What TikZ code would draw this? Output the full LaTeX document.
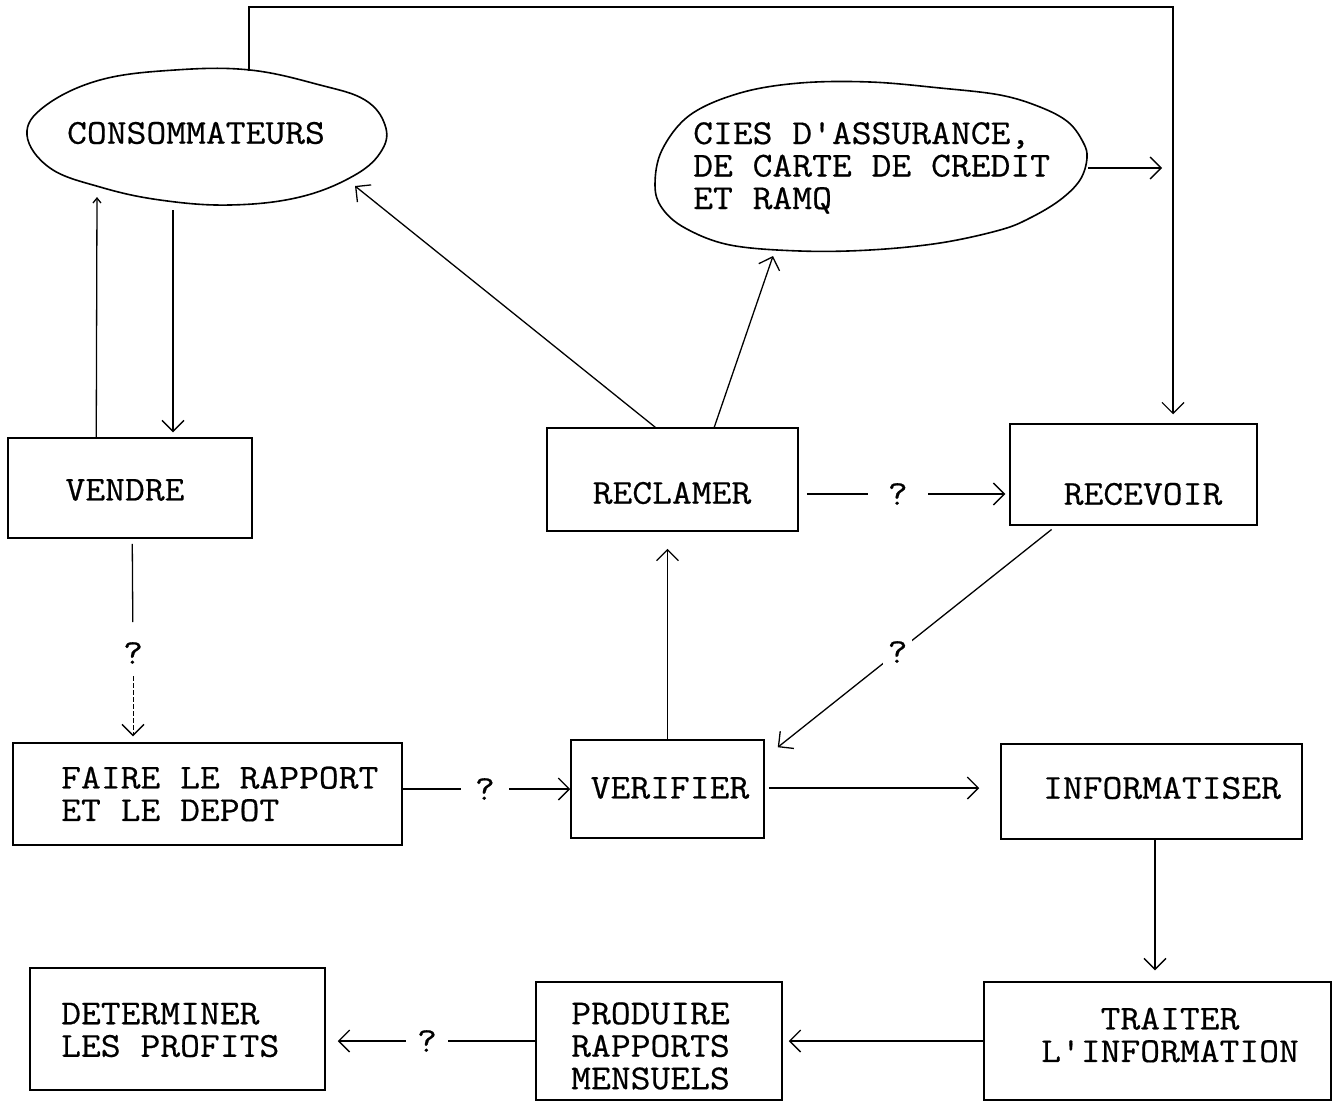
\documentclass[tikz,border=0pt]{standalone}
\usepackage{fontspec}
\setmonofont[FakeStretch=1.1, FakeBold=0.5]{Latin Modern Mono}
\usetikzlibrary{arrows.meta,calc}
\newcommand\typew{\ttfamily\fontsize{35}{32.5}\selectfont}
\begin{document}
\begin{tikzpicture}[x=1pt,y=-1pt,
  every node/.style={inner sep=0pt},
  box/.style={draw, line width=1.5pt, rectangle},
  lbl/.style={font=\typew, align=left},
  qm/.style={font=\typew},
  arr/.style={line width=1.3pt, -{Straight Barb[length=11pt,width=22pt]}},
  arrsmall/.style={line width=1.3pt, -{Straight Barb[length=5pt,width=8pt]}},
  dottedarr/.style={line width=0.8pt, dash pattern=on 5pt off 2pt, -{Straight Barb[length=11pt,width=22pt,line width=1.3pt]}},
  blob/.style={line width=1.6pt}
]
\fill[white] (0,0) rectangle (1332,1101);
\useasboundingbox (0,0) rectangle (1332,1101);

% external entities
\draw[blob] plot[smooth cycle, tension=0.65] coordinates {(27,135) (45,106) (100,80) (175,70) (250,70) (320,85) (365,100) (385,125) (382,150) (355,175) (300,197) (230,205) (160,200) (100,187) (50,168)};
\node[lbl] (cons-t) at (196,133) {CONSOMMATEURS};

\draw[blob] plot[smooth cycle, tension=0.6] coordinates {(655,185) (662,150) (690,115) (740,93) (800,83) (870,82) (940,88) (1000,95) (1040,107) (1068,122) (1083,142) (1087,158) (1080,180) (1060,200) (1030,218) (1000,230) (940,243) (870,250) (800,251) (730,245) (685,228) (662,208)};
\node[lbl, anchor=west] (cies-t) at (693,168) {CIES D'ASSURANCE,\\DE CARTE DE CREDIT\\ET RAMQ};

% process boxes
\node[box, minimum width=244pt, minimum height=100pt] (vendre) at (130,488) {};
\node[box, minimum width=389pt, minimum height=102pt] (faire) at (207.5,794) {};
\node[box, minimum width=251pt, minimum height=103pt] (reclamer) at (672.5,479.5) {};
\node[box, minimum width=247pt, minimum height=101pt] (recevoir) at (1133.5,474.5) {};
\node[box, minimum width=193pt, minimum height=98pt] (verifier) at (667.5,789) {};
\node[box, minimum width=301pt, minimum height=95pt] (informatiser) at (1151.5,791.5) {};
\node[box, minimum width=347pt, minimum height=118pt] (traiter) at (1157.5,1041) {};
\node[box, minimum width=246pt, minimum height=118pt] (produire) at (659,1041) {};
\node[box, minimum width=295pt, minimum height=122pt] (determiner) at (177.5,1029) {};

% box texts
\node[lbl] (vendre-t) at (125,490) {VENDRE};
\node[lbl, anchor=west] (faire-t) at (61,794) {FAIRE LE RAPPORT\\ET LE DEPOT};
\node[lbl] (reclamer-t) at (672,493) {RECLAMER};
\node[lbl] (recevoir-t) at (1143,494) {RECEVOIR};
\node[lbl] (verifier-t) at (670,788) {VERIFIER};
\node[lbl] (informatiser-t) at (1162,788) {INFORMATISER};
\node[lbl, align=center] (traiter-t) at (1170,1035) {TRAITER\\L'INFORMATION};
\node[lbl, anchor=west] (produire-t) at (571,1046) {PRODUIRE\\RAPPORTS\\MENSUELS};
\node[lbl, anchor=west] (determiner-t) at (61,1030) {DETERMINER\\LES PROFITS};

% attachment points on the entities
\coordinate (consTop) at (249,71);
\coordinate (loopCorner) at (1173,7);
\coordinate (consBotA) at (97,197);
\coordinate (consBotB) at (173,210);
\coordinate (consArr) at (355,186);
\coordinate (ciesArr) at (773,256);
\coordinate (ciesE) at (1088,168);
\coordinate (ciesOut) at (1162,168);
\coordinate (xInfo) at (1155,0);

% flows
\draw[arr, line width=1.1pt, shorten >=9pt] (consTop) |- (loopCorner) -- (loopCorner |- recevoir.north);
\draw[arrsmall] ([xshift=89pt]vendre.north west) -- (consBotA);
\draw[arr, shorten >=5pt] (consBotB) -- (vendre.north west -| consBotB);

\node[qm, inner ysep=20pt, inner xsep=2pt] (q1) at (133,653) {?};
\draw[line width=1.3pt, shorten <=5pt] ([xshift=125pt]vendre.south west) -- (q1);
\draw[dottedarr, shorten <=-8pt, shorten >=6pt] (q1) -- (q1 |- faire.north);

\draw[arr] (faire.east |- verifier) -- (verifier.west)
  node[qm, fill=white, inner xsep=14pt, pos=0.49] (q2) {?};

\draw[arr] ([xshift=109pt]reclamer.north west) -- (consArr);
\draw[arr] ([xshift=168pt]reclamer.north west) -- (ciesArr);

\draw[arr, shorten <=8pt, shorten >=4pt] (reclamer.east |- recevoir-t) -- (recevoir.west |- recevoir-t)
  node[qm, fill=white, inner xsep=20pt, pos=0.47] (q3) {?};

\draw[arr, shorten <=6pt] ([xshift=47pt]recevoir.south west) -- ([xshift=13pt,yshift=-8pt]verifier.north east)
  node[qm, fill=white, inner sep=5pt, pos=0.57] (q4) {?};

\draw[arr, shorten >=17pt] (verifier.north) -- (reclamer.south -| verifier.north);
\draw[arr, shorten <=4pt, shorten >=21pt] (verifier.east |- verifier-t) -- (informatiser.west |- verifier-t);
\draw[arr] (ciesE) -- (ciesOut);
\draw[arr, shorten >=11pt] (informatiser.south -| xInfo) -- (traiter.north -| xInfo);
\draw[arr, shorten >=6pt] (traiter.west) -- (produire.east |- traiter.west);
\draw[arr, shorten >=12pt] (produire.west |- traiter.west) -- (determiner.east |- traiter.west)
  node[qm, fill=white, inner xsep=11pt, pos=0.517] (q5) {?};
\end{tikzpicture}
\end{document}
